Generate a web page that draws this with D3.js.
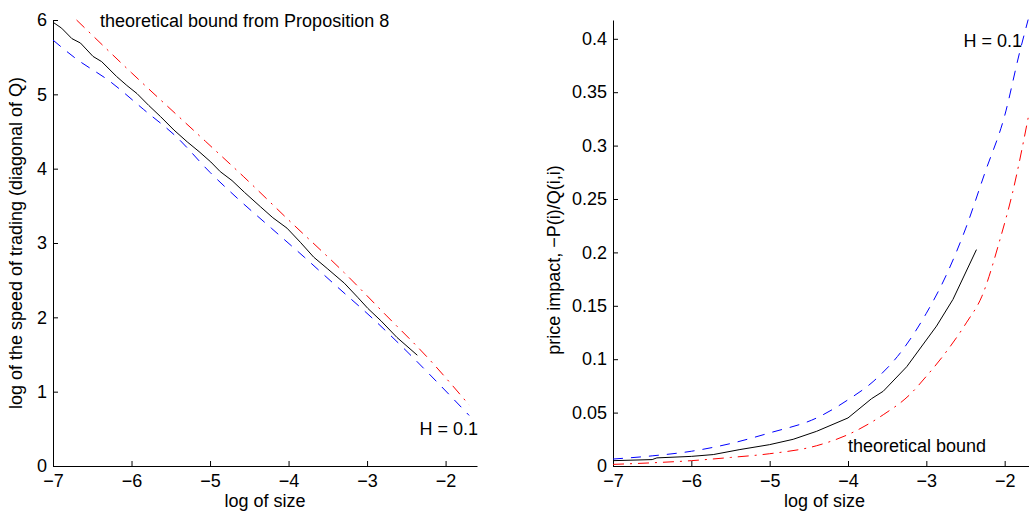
<!DOCTYPE html>
<html>
<head>
<meta charset="utf-8">
<script src="https://cdn.jsdelivr.net/npm/d3@7"></script>
<style>
  body { margin: 0; background: #fff; }
  svg { display: block; font-family: "Liberation Sans", Arial, sans-serif; }
  .axis path, .axis line { stroke: #000; stroke-width: 1; }
  .axis text { font-size: 18px; fill: #000; font-family: "Liberation Sans", Arial, sans-serif; }
  .lbl { font-size: 18px; fill: #000; }
</style>
</head>
<body>
<script>
// ---- ticks ----
const xTicks = [-7, -6, -5, -4, -3, -2]
const yTicksLeft = [0, 1, 2, 3, 4, 5, 6]
const yTicksRight = [0, 0.05, 0.1, 0.15, 0.2, 0.25, 0.3, 0.35, 0.4]

// ---- data: left panel (log speed of trading) ----
const leftBlack = [
  [-7.00, 5.97], [-6.89, 5.89], [-6.76, 5.75], [-6.65, 5.69], [-6.49, 5.51],
  [-6.38, 5.44], [-6.19, 5.24], [-6.06, 5.12], [-5.93, 5.01], [-5.78, 4.85],
  [-5.63, 4.70], [-5.46, 4.52], [-5.29, 4.36], [-5.14, 4.23], [-4.99, 4.09],
  [-4.87, 3.96], [-4.72, 3.84], [-4.56, 3.68], [-4.36, 3.49], [-4.20, 3.34],
  [-4.02, 3.20], [-3.85, 3.01], [-3.68, 2.81], [-3.50, 2.65], [-3.29, 2.46],
  [-3.12, 2.27], [-2.99, 2.12], [-2.82, 1.95], [-2.62, 1.73], [-2.36, 1.49]
]
const leftRed = [
  [-6.70, 6.00], [-6.00, 5.29], [-5.06, 4.37], [-4.57, 3.89], [-4.00, 3.31],
  [-3.29, 2.60], [-2.76, 2.03], [-2.23, 1.46], [-1.70, 0.82]
]
const leftBlue = [
  [-7.00, 5.73], [-6.72, 5.49], [-6.27, 5.17], [-5.85, 4.80], [-5.42, 4.42],
  [-5.00, 3.95], [-4.65, 3.60], [-4.22, 3.20], [-3.80, 2.81], [-3.38, 2.41],
  [-2.95, 2.005], [-2.53, 1.58], [-2.10, 1.12], [-1.70, 0.68]
]

// ---- data: right panel (price impact) ----
const rightBlack = [
  [-7.00, 0.0050], [-6.50, 0.0060], [-6.44, 0.0076], [-6.00, 0.0090], [-5.72, 0.0107],
  [-5.38, 0.0154], [-5.00, 0.0200], [-4.70, 0.0250], [-4.40, 0.0325], [-4.00, 0.0450],
  [-3.70, 0.0630], [-3.55, 0.0700], [-3.25, 0.0930], [-3.00, 0.1180], [-2.87, 0.1310],
  [-2.66, 0.1560], [-2.36, 0.2026]
]
const rightRed = [
  [-7.00, 0.0015], [-6.50, 0.0030], [-6.00, 0.0050], [-5.50, 0.0080], [-5.00, 0.0115],
  [-4.40, 0.0190], [-4.00, 0.0294], [-3.55, 0.0480], [-3.21, 0.0669], [-3.00, 0.0840],
  [-2.79, 0.1027], [-2.49, 0.1340], [-2.29, 0.1590], [-2.06, 0.2120], [-1.90, 0.2557],
  [-1.70, 0.3260]
]
const rightBlue = [
  [-7.00, 0.0065], [-6.50, 0.0095], [-6.00, 0.0138], [-5.50, 0.0210], [-5.00, 0.0310],
  [-4.40, 0.0450], [-4.00, 0.0620], [-3.68, 0.0790], [-3.30, 0.1090], [-3.00, 0.1430],
  [-2.75, 0.1780], [-2.50, 0.2220], [-2.25, 0.2750], [-2.00, 0.3280], [-1.81, 0.3870],
  [-1.70, 0.4180]
]

const W = 1029, H = 514

const svg = d3.select('body').append('svg')
  .attr('width', W)
  .attr('height', H)
  .attr('viewBox', `0 0 ${W} ${H}`)

function drawPanel(opt) {
  const x = d3.scaleLinear().domain([-7, -1.6]).range([opt.left, opt.right])
  const y = d3.scaleLinear().domain(opt.yDomain).range([opt.bottom, opt.top])
  const g = svg.append('g')

  g.append('g')
    .attr('class', 'axis')
    .attr('transform', `translate(0,${opt.bottom})`)
    .call(d3.axisBottom(x).tickValues(xTicks).tickFormat(d3.format('d'))
      .tickSizeInner(-5).tickSizeOuter(0).tickPadding(8))

  g.append('g')
    .attr('class', 'axis')
    .attr('transform', `translate(${opt.left},0)`)
    .call(d3.axisLeft(y).tickValues(opt.yTicks).tickFormat(opt.yFormat)
      .tickSizeInner(-5).tickSizeOuter(0).tickPadding(6))

  const line = d3.line().x(d => x(d[0])).y(d => y(d[1]))

  g.append('path').datum(opt.blue)
    .attr('d', line.curve(d3.curveMonotoneX))
    .attr('fill', 'none').attr('stroke', '#0000ff').attr('stroke-width', 1)
    .attr('stroke-dasharray', '10,8')
  g.append('path').datum(opt.red)
    .attr('d', line.curve(d3.curveMonotoneX))
    .attr('fill', 'none').attr('stroke', '#ff0000').attr('stroke-width', 1)
    .attr('stroke-dasharray', '11,6,2,6')
  g.append('path').datum(opt.black)
    .attr('d', line.curve(d3.curveLinear))
    .attr('fill', 'none').attr('stroke', '#000').attr('stroke-width', 1)

  g.append('text').attr('class', 'lbl')
    .attr('x', (opt.left + opt.right) / 2).attr('y', 507)
    .attr('text-anchor', 'middle')
    .text('log of size')

  g.append('text').attr('class', 'lbl')
    .attr('transform', `translate(${opt.yLabelX},${opt.yLabelY}) rotate(-90)`)
    .attr('text-anchor', 'middle')
    .text(opt.yLabel)

  return g
}

const gl = drawPanel({
  left: 53, right: 477, top: 20, bottom: 466,
  yDomain: [0, 6], yTicks: yTicksLeft, yFormat: d3.format('d'),
  blue: leftBlue, red: leftRed, black: leftBlack,
  yLabel: 'log of the speed of trading (diagonal of Q)', yLabelX: 22, yLabelY: 243
})
gl.append('text').attr('class', 'lbl').attr('x', 100).attr('y', 27)
  .text('theoretical bound from Proposition 8')
gl.append('text').attr('class', 'lbl').attr('x', 478).attr('y', 435)
  .attr('text-anchor', 'end').text('H = 0.1')

const gr = drawPanel({
  left: 613, right: 1036, top: 20, bottom: 466,
  yDomain: [0, 0.4176], yTicks: yTicksRight, yFormat: d => +d.toFixed(2) + '',
  blue: rightBlue, red: rightRed, black: rightBlack,
  yLabel: 'price impact, \u2212P(i)/Q(i,i)', yLabelX: 560, yLabelY: 260
})
gr.append('text').attr('class', 'lbl').attr('x', 1022).attr('y', 47)
  .attr('text-anchor', 'end').text('H = 0.1')
gr.append('text').attr('class', 'lbl').attr('x', 848).attr('y', 452)
  .text('theoretical bound')
</script>
</body>
</html>
